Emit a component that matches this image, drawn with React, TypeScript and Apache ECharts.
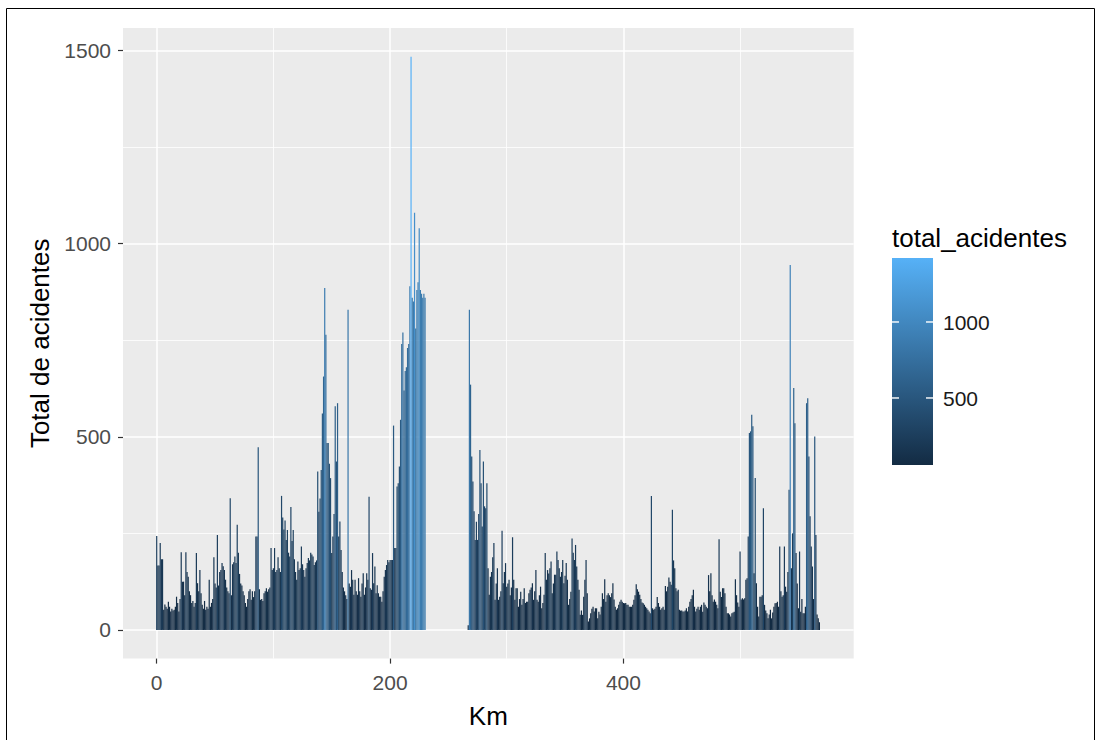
import React, { useEffect, useRef } from "react";
import * as echarts from "echarts";

// ---------- data (km 0..568, one bar per km; null = no bar) ----------
const kmStart = 0;
const totalAcidentes: (number | null)[] = [
  // 0-9
  243, 167, 167, 225, 183, 183, 52, 66, 60, 55,
  // 10-19
  73, 60, 48, 55, 50, 52, 60, 86, 70, 48,
  // 20-29
  80, 201, 125, 125, 90, 201, 150, 138, 100, 90,
  // 30-39
  70, 75, 60, 70, 199, 121, 100, 155, 95, 65,
  // 40-49
  55, 75, 52, 60, 55, 130, 60, 70, 80, 188,
  // 50-59
  120, 110, 246, 115, 150, 155, 173, 165, 155, 130,
  // 60-69
  110, 100, 95, 341, 90, 170, 175, 190, 173, 272,
  // 70-79
  200, 145, 120, 115, 100, 90, 70, 60, 80, 100,
  // 80-89
  105, 78, 100, 85, 100, 242, 242, 473, 105, 78,
  // 90-99
  80, 75, 95, 100, 108, 99, 105, 110, 212, 155,
  // 100-109
  160, 212, 150, 155, 188, 160, 150, 347, 291, 260,
  // 110-119
  283, 233, 259, 200, 190, 318, 230, 259, 183, 150,
  // 120-129
  130, 177, 155, 160, 216, 170, 155, 138, 160, 173,
  // 130-139
  186, 180, 200, 195, 190, 168, 175, 180, 410, 306,
  // 140-149
  340, 414, 560, 656, 885, 764, 484, 484, 430, 393,
  // 150-159
  199, 242, 300, 579, 436, 587, 242, 281, 207, 150,
  // 160-169
  110, 100, 90, 80, 829, 120, 112, 155, 130, 91,
  // 170-179
  130, 100, 91, 134, 100, 86, 120, 147, 91, 110,
  // 180-189
  147, 130, 345, 108, 104, 199, 121, 164, 95, 116,
  // 190-199
  95, 86, 86, 73, 100, 138, 155, 168, 181, 175,
  // 200-209
  181, 181, 181, 529, 212, 212, 371, 380, 423, 544,
  // 210-219
  740, 770, 620, 670, 680, 730, 740, 890, 1484, 860,
  // 220-229
  850, 1080, 780, 880, 900, 1040, 880, 870, 860, 870,
  // 230
  860,
  // 231-266 (no data)
  null, null, null, null, null, null, null, null, null,
  null, null, null, null, null, null, null, null, null,
  null, null, null, null, null, null, null, null, null,
  null, null, null, null, null, null, null, null, null,
  // 267-269
  12, 829, 635,
  // 270-279
  449, 384, 307, 233, 280, 233, 300, 466, 380, 268,
  // 280-289
  436, 320, 315, 380, 160, 91, 138, 150, 188, 225,
  // 290-299
  78, 120, 160, 78, 86, 100, 257, 121, 150, 173,
  // 300-309
  112, 120, 130, 90, 110, 240, 130, 78, 108, 108,
  // 310-319
  60, 80, 99, 65, 80, 108, 70, 73, 73, 95,
  // 320-329
  104, 110, 121, 78, 100, 155, 78, 73, 90, 112,
  // 330-339
  56, 70, 91, 199, 130, 155, 146, 160, 177, 95,
  // 340-349
  120, 143, 143, 203, 181, 160, 138, 150, 181, 121,
  // 350-359
  140, 173, 130, 65, 80, 99, 237, 200, 181, 220,
  // 360-369
  164, 130, 104, 39, 50, 39, 86, 130, 181, 95,
  // 370-379
  22, 30, 43, 55, 60, 48, 56, 56, 30, 47,
  // 380-389
  40, 60, 95, 80, 131, 73, 90, 95, 90, 85,
  // 390-399
  95, 121, 79, 60, 52, 56, 65, 73, 78, 73,
  // 400-409
  70, 69, 70, 65, 65, 60, 60, 60, 65, 78,
  // 410-419
  90, 118, 105, 99, 91, 80, 71, 69, 65, 60,
  // 420-429
  56, 52, 48, 43, 347, 56, 52, 55, 60, 85,
  // 430-439
  70, 60, 52, 56, 60, 52, 114, 100, 112, 136,
  // 440-449
  125, 117, 311, 180, 160, 108, 100, 104, 52, 50,
  // 450-459
  50, 48, 48, 50, 56, 48, 60, 73, 80, 90,
  // 460-469
  104, 60, 48, 55, 60, 52, 60, 65, 47, 71,
  // 470-479
  65, 60, 56, 142, 100, 147, 90, 73, 79, 73,
  // 480-489
  65, 56, 235, 99, 85, 108, 108, 95, 60, 43,
  // 490-499
  43, 40, 35, 43, 45, 47, 131, 90, 71, 60,
  // 500-509
  203, 79, 82, 79, 82, 130, 134, 242, 510, 514,
  // 510-519
  557, 527, 147, 393, 121, 60, 35, 86, 86, 90,
  // 520-529
  315, 65, 50, 43, 30, 40, 52, 30, 45, 60,
  // 530-539
  69, 70, 73, 60, 216, 100, 86, 90, 216, 112,
  // 540-549
  99, 150, 363, 945, 160, 250, 626, 535, 199, 120,
  // 550-559
  56, 203, 47, 80, 43, 43, 60, 587, 600, 449,
  // 560-568
  294, 216, 164, 80, 501, 246, 40, 30, 20,
];

const xTicks = [0, 200, 400];
const yTicks = [0, 500, 1000, 1500];
const legendTicks = [500, 1000];
const legendMin = 59;
const legendMax = 1421;
const xTitle = "Km";
const yTitle = "Total de acidentes";
const legendTitle = "total_acidentes";
const lowColor = "#132B43";
const highColor = "#56B1F7";

const FONT = "'Liberation Sans', Arial, Helvetica, sans-serif";

export default function App() {
  const ref = useRef<HTMLDivElement>(null);

  useEffect(() => {
    if (!ref.current) return;
    const chart = echarts.init(ref.current, null, { renderer: "svg" });

    const data = totalAcidentes
      .map((v, i) => [kmStart + i, v])
      .filter((d) => d[1] !== null);

    // colour bar geometry
    const cbX = 892;
    const cbY = 258;
    const cbW = 41;
    const cbH = 207;
    const cbPos = (v: number) =>
      cbY + cbH - ((v - legendMin) / (legendMax - legendMin)) * cbH;

    const legendGraphics: any[] = [
      {
        type: "text",
        x: cbX,
        y: 238,
        silent: true,
        style: {
          text: legendTitle,
          fontSize: 26,
          fontFamily: FONT,
          fill: "#000000",
          align: "left",
          verticalAlign: "middle",
        },
      },
      {
        type: "rect",
        silent: true,
        shape: { x: cbX, y: cbY, width: cbW, height: cbH },
        style: {
          fill: new echarts.graphic.LinearGradient(0, 1, 0, 0, [
            { offset: 0, color: lowColor },
            { offset: 1, color: highColor },
          ]),
        },
      },
    ];
    legendTicks.forEach((t) => {
      const y = cbPos(t);
      legendGraphics.push(
        {
          type: "line",
          silent: true,
          shape: { x1: cbX, y1: y, x2: cbX + 7, y2: y },
          style: { stroke: "#FFFFFF", lineWidth: 1.4 },
        },
        {
          type: "line",
          silent: true,
          shape: { x1: cbX + cbW - 7, y1: y, x2: cbX + cbW, y2: y },
          style: { stroke: "#FFFFFF", lineWidth: 1.4 },
        },
        {
          type: "text",
          silent: true,
          x: cbX + cbW + 10,
          y: y + 1,
          style: {
            text: String(t),
            fontSize: 21,
            fontFamily: FONT,
            fill: "#1A1A1A",
            align: "left",
            verticalAlign: "middle",
          },
        }
      );
    });

    const option: any = {
      animation: false,
      backgroundColor: "#FFFFFF",
      textStyle: { fontFamily: FONT },
      grid: {
        left: 123,
        right: 242.3,
        top: 28,
        bottom: 81.4,
        show: true,
        backgroundColor: "#EBEBEB",
        borderWidth: 0,
      },
      xAxis: {
        type: "value",
        min: -28.9,
        max: 597.4,
        splitNumber: 3,
        axisLine: { show: false, onZero: false },
        axisTick: {
          show: true,
          length: 5,
          customValues: xTicks,
          lineStyle: { color: "#333333", width: 1.2 },
        },
        axisLabel: {
          customValues: xTicks,
          color: "#4D4D4D",
          fontSize: 21,
          fontFamily: FONT,
          margin: 13,
          formatter: (v: number) => String(v),
        },
        splitLine: { show: true, lineStyle: { color: "#FFFFFF", width: 1.5 } },
        minorTick: { show: false, splitNumber: 2 },
        minorSplitLine: { show: true, lineStyle: { color: "#FFFFFF", width: 0.8 } },
        name: xTitle,
        nameLocation: "middle",
        nameGap: 44,
        nameTextStyle: { color: "#000000", fontSize: 26, fontFamily: FONT },
      },
      yAxis: {
        type: "value",
        min: -74.2,
        max: 1558.2,
        splitNumber: 3,
        axisLine: { show: false, onZero: false },
        axisTick: {
          show: true,
          length: 5,
          customValues: yTicks,
          lineStyle: { color: "#333333", width: 1.2 },
        },
        axisLabel: {
          customValues: yTicks,
          color: "#4D4D4D",
          fontSize: 21,
          fontFamily: FONT,
          margin: 12,
          formatter: (v: number) => String(v),
        },
        splitLine: { show: true, lineStyle: { color: "#FFFFFF", width: 1.5 } },
        minorTick: { show: false, splitNumber: 2 },
        minorSplitLine: { show: true, lineStyle: { color: "#FFFFFF", width: 0.8 } },
        name: yTitle,
        nameLocation: "middle",
        nameGap: 68,
        nameTextStyle: { color: "#000000", fontSize: 26, fontFamily: FONT },
      },
      visualMap: {
        type: "continuous",
        show: false,
        seriesIndex: 0,
        dimension: 1,
        min: legendMin,
        max: legendMax,
        inRange: { color: [lowColor, highColor] },
      },
      series: [
        {
          type: "bar",
          data,
          barWidth: 1.2,
          silent: true,
        },
      ],
      graphic: [
        {
          type: "rect",
          silent: true,
          z: 100,
          shape: { x: 6.5, y: 8.5, width: 1088, height: 740 },
          style: { fill: "none", stroke: "#000000", lineWidth: 1 },
        },
        ...legendGraphics,
      ],
    };

    chart.setOption(option);
    return () => {
      chart.dispose();
    };
  }, []);

  return (
    <div
      ref={ref}
      style={{
        position: "absolute",
        left: 0,
        top: 0,
        width: 1096,
        height: 740,
        background: "#FFFFFF",
      }}
    />
  );
}
